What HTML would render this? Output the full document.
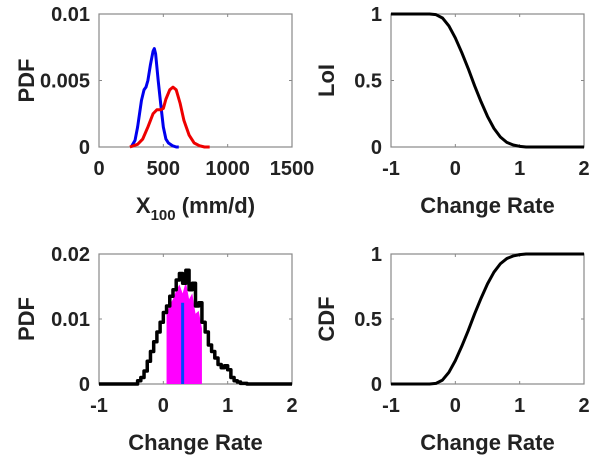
<!DOCTYPE html>
<html><head><meta charset="utf-8"><style>
body{margin:0;background:#fff;}
svg text{font-family:"Liberation Sans",Arial,sans-serif;font-weight:bold;fill:#222;}
</style></head><body>
<svg id="c" width="600" height="462" xmlns="http://www.w3.org/2000/svg"></svg>
<script>
const blueX=[250,280,300,330,350,365,380,400,420,430,440,460,480,500,520,540,570,600,620];
const blueY=[0,0.0005,0.0015,0.0035,0.0043,0.0045,0.005,0.0062,0.0072,0.0074,0.007,0.005,0.0032,0.0015,0.0006,0.0003,0.0001,0,0];
const redX=[240,300,340,380,420,450,480,500,520,550,575,600,630,660,700,740,780,820,860];
const redY=[0,0.0002,0.0006,0.0015,0.0025,0.0028,0.0028,0.0029,0.0036,0.0043,0.0045,0.0043,0.0033,0.002,0.0009,0.0003,0.0001,0,0];
const histX=[-1,-0.45,-0.4,-0.35,-0.3,-0.25,-0.2,-0.15,-0.1,-0.05,0,0.05,0.1,0.15,0.2,0.25,0.3,0.35,0.4,0.45,0.5,0.55,0.6,0.65,0.7,0.75,0.8,0.85,0.9,0.95,1,1.05,1.1,1.15,1.2,1.3,2];
const histY=[0,0,0.0005,0.001,0.002,0.0035,0.005,0.0065,0.008,0.0095,0.011,0.012,0.0135,0.0145,0.016,0.017,0.0155,0.0175,0.0145,0.0155,0.012,0.0125,0.0095,0.008,0.006,0.005,0.004,0.003,0.0025,0.0028,0.0022,0.001,0.0005,0.0003,0.0001,0,0];
const fillLo=0.05, fillHi=0.6, meanVal=0.3, meanTop=0.0125;
const loiX=[-1,-0.4,-0.3,-0.2,-0.1,0,0.1,0.2,0.3,0.4,0.5,0.6,0.7,0.8,0.9,1,1.1,1.2,2];
const loiY=[1,1,0.995,0.97,0.91,0.82,0.71,0.59,0.46,0.34,0.23,0.14,0.075,0.035,0.015,0.005,0,0,0];
const cdfX=loiX;
const cdfY=loiY.map(v=>+(1-v).toFixed(3));
const xTicksTL=[0,500,1000,1500], yTicksTL=[0,0.005,0.01];
const xTicksCR=[-1,0,1,2];
const NS="http://www.w3.org/2000/svg";
const svg=document.getElementById('c');
function el(t,a,p){const e=document.createElementNS(NS,t);for(const k in a)e.setAttribute(k,a[k]);(p||svg).appendChild(e);return e;}
function axes(name,L,R,T,B,xmin,xmax,ymin,ymax,xt,yt,ylab,xlab){
  const g=el('g',{});
  
  
  const sx=v=>L+(v-xmin)/(xmax-xmin)*(R-L), sy=v=>B-(v-ymin)/(ymax-ymin)*(B-T);
  const box=el('rect',{x:L,y:T,width:R-L,height:B-T,fill:'none',stroke:'#888','stroke-width':1.2},g);
  
  
  xt.forEach(v=>{el('line',{x1:sx(v),x2:sx(v),y1:B,y2:B-3,stroke:'#888'},g);el('line',{x1:sx(v),x2:sx(v),y1:T,y2:T+3,stroke:'#888'},g);
    const t=el('text',{x:sx(v),y:B+28,'text-anchor':'middle','font-size':20},g);t.textContent=v;
    });
  yt.forEach(v=>{el('line',{x1:L,x2:L+3,y1:sy(v),y2:sy(v),stroke:'#888'},g);el('line',{x1:R,x2:R-3,y1:sy(v),y2:sy(v),stroke:'#888'},g);
    const t=el('text',{x:L-9,y:sy(v)+7,'text-anchor':'end','font-size':20},g);t.textContent=v;
    });
  const yl=el('text',{x:0,y:0,'text-anchor':'middle','font-size':22,transform:`translate(${ylab[1]},${(T+B)/2}) rotate(-90)`},g);yl.textContent=ylab[0];
  
  if(xlab){const xl=el('text',{x:(L+R)/2,y:B+66,'text-anchor':'middle','font-size':22},g);xl.innerHTML=xlab;
  }
  return {g,sx,sy};
}
function line(a,X,Y,color,w,name){const p=el('polyline',{points:X.map((x,i)=>a.sx(x)+','+a.sy(Y[i])).join(' '),fill:'none',stroke:color,'stroke-width':w,'stroke-linejoin':'round'},a.g);
  return p;}
const a1=axes('pdf-x100-chart',99,292,14,147,0,1500,0,0.01,xTicksTL,yTicksTL,['PDF',34],'X<tspan font-size="15" dy="7">100</tspan><tspan dy="-7"> (mm/d)</tspan>');
line(a1,blueX,blueY,'#0000ee',3,'blue-pdf-line');
line(a1,redX,redY,'#ee0000',3,'red-pdf-line');
const a2=axes('loi-chart',391,584,14,147,-1,2,0,1,xTicksCR,[0,0.5,1],['LoI',334],'Change Rate');
line(a2,loiX,loiY,'#000',3,'loi-line');
const a3=axes('pdf-change-rate-chart',99,292,254,384,-1,2,0,0.02,xTicksCR,[0,0.01,0.02],['PDF',34],'Change Rate');
const fx=[],fy=[];histX.forEach((x,i)=>{if(x>=fillLo&&x<=fillHi){fx.push(x);fy.push(histY[i]*0.9);}});
const fp=el('polygon',{points:[a3.sx(fillLo)+','+a3.sy(0)].concat(fx.map((x,i)=>a3.sx(x)+','+a3.sy(fy[i]))).concat([a3.sx(fillHi)+','+a3.sy(0)]).join(' '),fill:'#ff00ff'},a3.g);

const sx=[],sy=[];histX.forEach((x,i)=>{sx.push(x);sy.push(histY[i]);if(i<histX.length-1){sx.push(histX[i+1]);sy.push(histY[i]);}});
line(a3,sx,sy,'#000',3.5,'histogram-line');
const ml=el('line',{x1:a3.sx(meanVal),x2:a3.sx(meanVal),y1:a3.sy(0),y2:a3.sy(meanTop),stroke:'#0044ff','stroke-width':3},a3.g);

const a4=axes('cdf-chart',391,584,254,384,-1,2,0,1,xTicksCR,[0,0.5,1],['CDF',334],'Change Rate');
line(a4,cdfX,cdfY,'#000',3,'cdf-line');
</script>
</body></html>
